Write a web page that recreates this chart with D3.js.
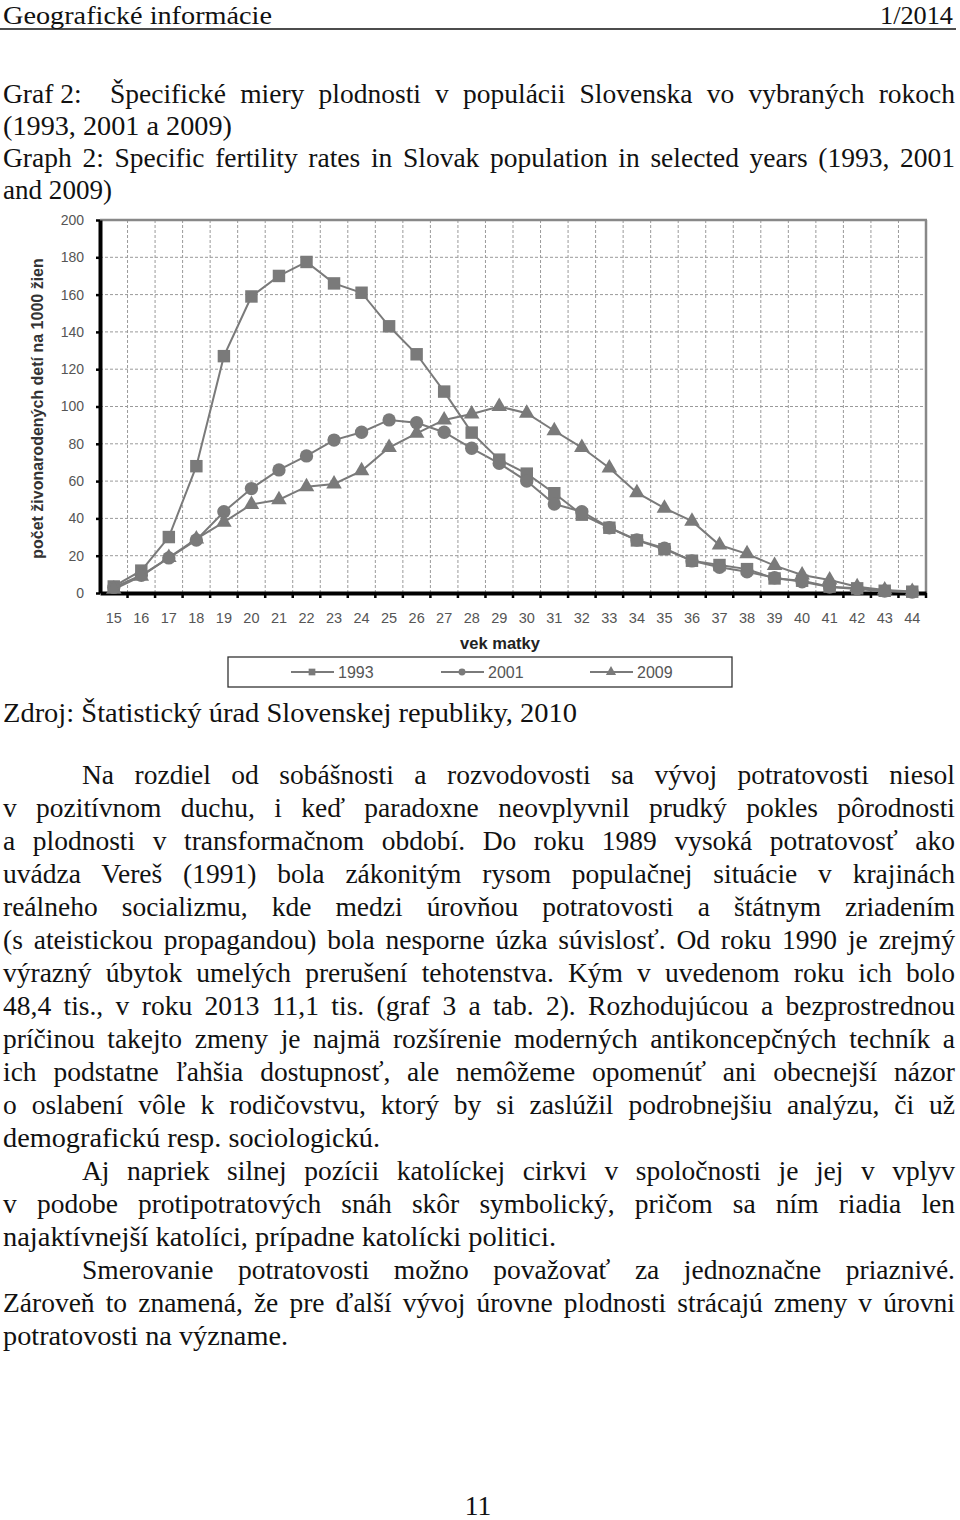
<!DOCTYPE html>
<html>
<head>
<meta charset="utf-8">
<script src="https://cdn.jsdelivr.net/npm/d3@7"></script>
<style>
  html, body { margin: 0; padding: 0; background: #fff; }
  svg { display: block; }
</style>
</head>
<body>
<svg id="page" width="960" height="1520"></svg>
<script>
// ---------------- DATA ----------------
const ages = [15, 16, 17, 18, 19, 20, 21, 22, 23, 24, 25, 26, 27, 28, 29, 30, 31, 32, 33, 34, 35, 36, 37, 38, 39, 40, 41, 42, 43, 44];
const rates1993 = [3.5, 12, 30, 68, 127, 159, 170, 177.5, 166, 161, 143, 128, 108, 86, 71.5, 64, 53.5, 42, 35, 28.2, 23.5, 17.3, 15, 12.8, 7.8, 6.6, 3.4, 2.5, 1.2, 0.7];
const rates2001 = [3, 9.5, 18.8, 28.4, 43.6, 56, 66, 73.5, 82, 86.2, 92.8, 91.3, 86.2, 77.6, 69.5, 60, 47.7, 43.6, 35, 28.4, 24, 17.2, 13.8, 11.4, 8.2, 6, 3.2, 2.2, 1, 0.5];
const rates2009 = [2, 9, 19, 29, 38, 47.5, 50, 57, 58.5, 65.5, 78, 85.6, 92.8, 96, 100, 96.4, 87, 78, 67, 53.8, 45.5, 38.5, 25.7, 21, 14.7, 9.7, 7, 3.4, 1.6, 0.8];
const seriesNames = ["1993", "2001", "2009"];
const yTicks = [0, 20, 40, 60, 80, 100, 120, 140, 160, 180, 200];
const yAxisTitle = "počet živonarodených detí na 1000 žien";
const xAxisTitle = "vek matky";

const headerLeft = "Geografické informácie";
const headerRight = "1/2014";
const titleLabel = "Graf 2:";
const titleLines = [
  "Špecifické miery plodnosti v populácii Slovenska vo vybraných rokoch",
  "(1993, 2001 a 2009)",
  "Graph 2: Specific fertility rates in Slovak population in selected years (1993, 2001",
  "and 2009)"
];
const sourceLine = "Zdroj: Štatistický úrad Slovenskej republiky, 2010";
const bodyLines = [
  "Na rozdiel od sobášnosti a rozvodovosti sa vývoj potratovosti niesol",
  "v pozitívnom duchu, i keď paradoxne neovplyvnil prudký pokles pôrodnosti",
  "a plodnosti v transformačnom období. Do roku 1989 vysoká potratovosť ako",
  "uvádza Vereš (1991) bola zákonitým rysom populačnej situácie v krajinách",
  "reálneho socializmu, kde medzi úrovňou potratovosti a štátnym zriadením",
  "(s ateistickou propagandou) bola nesporne úzka súvislosť. Od roku 1990 je zrejmý",
  "výrazný úbytok umelých prerušení tehotenstva. Kým v uvedenom roku ich bolo",
  "48,4 tis., v roku 2013 11,1 tis. (graf 3 a tab. 2). Rozhodujúcou a bezprostrednou",
  "príčinou takejto zmeny je najmä rozšírenie moderných antikoncepčných techník a",
  "ich podstatne ľahšia dostupnosť, ale nemôžeme opomenúť ani obecnejší názor",
  "o oslabení vôle k rodičovstvu, ktorý by si zaslúžil podrobnejšiu analýzu, či už",
  "demografickú resp. sociologickú.",
  "Aj napriek silnej pozícii katolíckej cirkvi v spoločnosti je jej v vplyv",
  "v podobe protipotratových snáh skôr symbolický, pričom sa ním riadia len",
  "najaktívnejší katolíci, prípadne katolícki politici.",
  "Smerovanie potratovosti možno považovať za jednoznačne priaznivé.",
  "Zároveň to znamená, že pre ďalší vývoj úrovne plodnosti strácajú zmeny v úrovni",
  "potratovosti na význame."
];
const paragraphStarts = [0, 12, 15];
const paragraphEnds = [11, 14, 17];
const pageNumber = "11";

// ---------------- PAGE TEXT ----------------
const svg = d3.select("#page");
svg.append("rect").attr("width", 960).attr("height", 1520).attr("fill", "#fff");

const serif = "'Liberation Serif', 'Times New Roman', serif";
const FS = 27.5;

function textLine(str, x0, x1, baseline, justify, fit, size) {
  const t = svg.append("text")
    .attr("x", x0).attr("y", baseline)
    .attr("font-family", serif).attr("font-size", size || FS)
    .attr("fill", "#111")
    .text(str);
  const natural = t.node().getComputedTextLength();
  const target = x1 - x0;
  if (justify) {
    const nSp = (str.match(/ /g) || []).length;
    const extra = target - natural;
    if (nSp > 0 && extra >= 0) {
      t.attr("word-spacing", extra / nSp);
    } else {
      t.attr("textLength", target).attr("lengthAdjust", "spacingAndGlyphs");
    }
  } else if (fit) {
    t.attr("textLength", target).attr("lengthAdjust", "spacingAndGlyphs");
  }
  return t;
}

// header
textLine(headerLeft, 3, 272, 23.5, false, true, 26);
textLine(headerRight, 880, 953, 23.5, false, true, 26);
svg.append("line").attr("x1", 0).attr("x2", 956).attr("y1", 29).attr("y2", 29)
  .attr("stroke", "#111").attr("stroke-width", 1.5);

// titles
textLine(titleLabel, 3, 90, 103, false, false);
textLine(titleLines[0], 110, 955, 103, true);
textLine(titleLines[1], 3, 232, 135, false, true);
textLine(titleLines[2], 3, 955, 167, true);
textLine(titleLines[3], 3, 112, 199, false, true);

// source
textLine(sourceLine, 3, 577, 722, false, true);

// body
const lastEnds = { 11: 380, 14: 556, 17: 288 };
bodyLines.forEach((s, i) => {
  const indent = paragraphStarts.includes(i);
  const isLast = paragraphEnds.includes(i);
  const x0 = indent ? 82 : 3;
  const x1 = isLast ? lastEnds[i] : 955;
  textLine(s, x0, x1, 784 + 33 * i, !isLast, isLast);
});

svg.append("text").attr("x", 478).attr("y", 1515).attr("text-anchor", "middle")
  .attr("font-family", serif).attr("font-size", FS).attr("fill", "#111").text(pageNumber);

// ---------------- CHART ----------------
const sans = "'Liberation Sans', Arial, sans-serif";
const pLeft = 100, pRight = 926, pTop = 220, pBottom = 593;
const x = d3.scaleBand().domain(ages).range([pLeft, pRight]).padding(0);
const y = d3.scaleLinear().domain([0, 200]).range([pBottom, pTop]);
const g = svg.append("g");

// grid
g.selectAll("line.hgrid").data(yTicks.filter(v => v > 0 && v < 200)).join("line")
  .attr("class", "hgrid")
  .attr("x1", pLeft).attr("x2", pRight)
  .attr("y1", d => y(d)).attr("y2", d => y(d))
  .attr("stroke", "#9a9a9a").attr("stroke-width", 1).attr("stroke-dasharray", "3,2");
g.selectAll("line.vgrid").data(ages.slice(1)).join("line")
  .attr("class", "vgrid")
  .attr("x1", d => x(d)).attr("x2", d => x(d))
  .attr("y1", pTop).attr("y2", pBottom)
  .attr("stroke", "#9a9a9a").attr("stroke-width", 1).attr("stroke-dasharray", "3,2");

// top and right border
g.append("line").attr("x1", pLeft).attr("x2", pRight + 1).attr("y1", y(200)).attr("y2", y(200))
  .attr("stroke", "#888").attr("stroke-width", 2.5);
g.append("line").attr("x1", pRight).attr("x2", pRight).attr("y1", pTop).attr("y2", pBottom)
  .attr("stroke", "#888").attr("stroke-width", 2.5);

// left axis
const yAxis = g.append("g").attr("transform", `translate(${pLeft},0)`)
  .call(d3.axisLeft(y).tickValues(yTicks).tickSize(4).tickPadding(12).tickSizeOuter(0));
yAxis.select(".domain").attr("stroke", "#000").attr("stroke-width", 4);
yAxis.selectAll(".tick line").attr("stroke", "#000").attr("stroke-width", 2.5);
yAxis.selectAll(".tick text").attr("font-family", sans).attr("font-size", 14).attr("fill", "#555");

// bottom axis (labels at band centres)
const xAxis = g.append("g").attr("transform", `translate(0,${pBottom})`)
  .call(d3.axisBottom(x).tickSize(0).tickPadding(20));
xAxis.select(".domain").attr("stroke", "#000").attr("stroke-width", 4);
xAxis.selectAll(".tick text").attr("font-family", sans).attr("font-size", 14.5).attr("fill", "#555");
// tick marks at band boundaries
g.selectAll("line.xtick").data(ages.slice(1).concat([null])).join("line")
  .attr("class", "xtick")
  .attr("x1", d => d === null ? pRight : x(d)).attr("x2", d => d === null ? pRight : x(d))
  .attr("y1", pBottom).attr("y2", pBottom + 5)
  .attr("stroke", "#000").attr("stroke-width", 2.5);

// axis titles
svg.append("text")
  .attr("transform", `translate(43,${(pTop + pBottom) / 2 + 2}) rotate(-90)`)
  .attr("text-anchor", "middle").attr("font-family", sans).attr("font-size", 16)
  .attr("font-weight", "bold").attr("fill", "#333").text(yAxisTitle);
svg.append("text").attr("x", 500).attr("y", 649).attr("text-anchor", "middle")
  .attr("font-family", sans).attr("font-size", 16.5).attr("font-weight", "bold")
  .attr("fill", "#222").text(xAxisTitle);

// series
const seriesColor = "#7a7a7a";
const series = [
  { name: seriesNames[0], values: rates1993, sym: d3.symbolSquare, size: 155 },
  { name: seriesNames[1], values: rates2001, sym: d3.symbolCircle, size: 140 },
  { name: seriesNames[2], values: rates2009, sym: d3.symbolTriangle, size: 105 }
];
const line = d3.line().x((d, i) => x(ages[i]) + x.bandwidth() / 2).y(d => y(d));
series.forEach(s => {
  g.append("path").datum(s.values).attr("d", line)
    .attr("fill", "none").attr("stroke", seriesColor).attr("stroke-width", 2);
});
series.forEach(s => {
  g.selectAll(null).data(s.values).join("path")
    .attr("transform", (d, i) => `translate(${x(ages[i]) + x.bandwidth() / 2},${y(d)})`)
    .attr("d", d3.symbol().type(s.sym).size(s.size))
    .attr("fill", seriesColor);
});

// legend
const lg = svg.append("g");
lg.append("rect").attr("x", 228).attr("y", 657).attr("width", 504).attr("height", 30)
  .attr("fill", "#fff").attr("stroke", "#333").attr("stroke-width", 1.3);
const legendX = [291, 441, 590];
const legendSizes = [45, 38, 45];
series.forEach((s, i) => {
  const lx = legendX[i];
  lg.append("line").attr("x1", lx).attr("x2", lx + 43).attr("y1", 672).attr("y2", 672)
    .attr("stroke", seriesColor).attr("stroke-width", 2);
  lg.append("path").attr("transform", `translate(${lx + 21},672)`)
    .attr("d", d3.symbol().type(s.sym).size(legendSizes[i])).attr("fill", seriesColor);
  lg.append("text").attr("x", lx + 47).attr("y", 678)
    .attr("font-family", sans).attr("font-size", 16).attr("fill", "#555").text(s.name);
});
</script>
</body>
</html>
